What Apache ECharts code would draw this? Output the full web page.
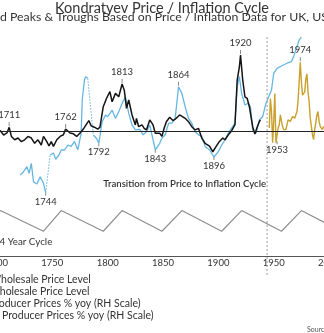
<!DOCTYPE html>
<html>
<head>
<meta charset="utf-8">
<script src="https://cdn.jsdelivr.net/npm/echarts@6/dist/echarts.min.js"></script>
<style>
  html, body { margin: 0; padding: 0; background: #fff; }
  #chart { width: 324px; height: 333px; }
</style>
</head>
<body>
<div id="chart"></div>
<script>
// UK wholesale price level, index (100 = long-run reference level)
const ukWholesale = [
  [1700,100],[1703,100.5],[1706,97],[1709,98.7],[1711,103.2],[1713,95.9],[1716,93.2],[1719,94.6],
  [1722,91.7],[1725,93.2],[1728,95.9],[1731,94.6],[1734,90.4],[1737,93.2],[1740,89],[1742,95.9],
  [1745,91.7],[1747,88.2],[1749,91.7],[1751,87.9],[1754,93.2],[1757,95.9],[1760,97.2],[1762,101.8],
  [1766,98.6],[1769,98],[1772,95.9],[1775,98.6],[1778,101.8],[1781,106],[1783,108.6],[1785,104.4],
  [1788,103.3],[1791,101.8],[1793,103.3],[1796,119.7],[1799,126.5],[1802,131.8],[1804,123.7],[1807,130.4],
  [1810,127.7],[1813,137.9],[1815,133],[1817,118.4],[1819,125.1],[1822,113.1],[1825,105.1],[1826,110.4],
  [1828,103.7],[1831,105.1],[1833,102.4],[1835,101.1],[1838,109.1],[1841,105.1],[1843,98.4],[1847,98.4],
  [1849,95.9],[1851,102.4],[1853,107.7],[1856,111.3],[1859,108.6],[1861,109.7],[1865,113.1],[1870,110.4],
  [1873,107.7],[1876,103.7],[1879,101.1],[1882,102.4],[1885,94.6],[1888,90.4],[1892,88.2],[1895,83.6],
  [1898,87.9],[1901,91.9],[1904,94.6],[1906,93.2],[1909,97.2],[1912,100.5],[1915,105.3],[1917,141.1],
  [1919,151.8],[1920,161.2],[1922,141.1],[1924,127.7],[1926,126.5],[1928,119.7],[1931,103.7],[1933,97.8],
  [1935,103.2],[1937,107.7],[1938,109.1]
];

// US wholesale price level, same index
const usWholesale = [
  [1721,65],[1724,67.6],[1727,71.6],[1729,66.3],[1731,74.3],[1733,59.6],[1736,57.7],[1739,63.6],
  [1742,58.3],[1744,50.8],[1748,81],[1751,82.6],[1753,77.6],[1756,81],[1758,85],[1761,85],
  [1764,89],[1767,87.9],[1770,91.9],[1773,85.2],[1776,98.4],[1777,125.1],[1779,141.1],[1780,143.8],
  [1782,142.5],[1787,97],[1790,94.2],[1792,90.4],[1795,107.7],[1798,113],[1800,111.7],[1804,117],
  [1807,110.4],[1810,115.7],[1813,122.4],[1816,127.7],[1819,114.4],[1822,105.1],[1825,101.1],[1829,101.6],
  [1832,97.2],[1835,99.7],[1838,105.1],[1841,93.2],[1843,85.2],[1847,90.4],[1849,94.6],[1852,97.2],
  [1855,106.5],[1858,106.5],[1861,110.4],[1864,135.7],[1867,130.4],[1870,119.7],[1873,110.4],[1876,106.5],
  [1879,99.7],[1882,97.2],[1885,95.9],[1888,87.9],[1892,85.2],[1896,79.4],[1900,83.7],[1903,89],
  [1906,93.2],[1910,99.9],[1915,106.6],[1917,135.8],[1919,143.8],[1921,130.4],[1924,121.1],[1927,122.4],
  [1929,119.7],[1931,101.1],[1934,98.4],[1937,109.1],[1940,111.7],[1943,122.4],[1948,133.1],[1950,146.5],
  [1953,150.5],[1957,152.4],[1962,154.6],[1966,155.9],[1968,159.9],[1971,167.9],[1973,173.2],[1975,175.6]
];
// spans with no US observations, bridged with a dotted line
const usDataGaps = [[1744,1748],[1782,1787]];

// US producer prices, % year on year (right-hand scale)
const usProducerYoy = [
  [1946,1],[1947,10],[1948,6],[1949,-3.5],[1950,3],[1951,11.5],[1952,-3.5],[1953,-3],
  [1954,1],[1955,2],[1956,5],[1957,3],[1958,1.5],[1959,0.5],[1960,0],[1961,0.5],
  [1962,1],[1963,3.5],[1964,4],[1965,3],[1966,3.5],[1967,4.5],[1968,4],[1969,4],
  [1970,4.5],[1971,6],[1972,9.5],[1973,15],[1974,21],[1975,15],[1976,11],[1977,10.5],
  [1978,12],[1979,16],[1980,17.5],[1981,12],[1982,9],[1983,4],[1984,1.5],[1985,-1],
  [1986,-2.5],[1987,0.5],[1988,2.5],[1989,5],[1990,6],[1991,3],[1992,1.5],[1993,1],
  [1994,0.5],[1995,1.5]
];

// idealised 54-year cycle: 1 = peak, 0 = trough
const cycle54 = [
  [1700,0.82],[1703,1],[1742,0],[1758,1],[1796,0],[1813,1],[1849,0],
  [1867,1],[1903,0],[1921,1],[1957,0],[1975,1],[2000,0.31]
];

// dated turning points: [series key, year]
const peakLabels = [['uk',1711],['uk',1762],['uk',1813],['us',1864],['uk',1920],['ppi',1974]];
const troughLabels = [['us',1744],['us',1792],['us',1843],['us',1896],['ppi',1953]];

const xTickYears = { min: 1700, max: 2020, step: 50 };
const transitionYear = 1944;

const legendNames = [
  'UK Wholesale Price Level',
  'US Wholesale Price Level',
  'US Producer Prices % yoy (RH Scale)',
  'China Producer Prices % yoy (RH Scale)'
];

const FONT = 'Lato, "Noto Sans", sans-serif';
const TEXT = '#333';
const C_UK = '#141414', C_US = '#66b6e3', C_PPI = '#c9a02c', C_CN = '#1f3f77', C_CYCLE = '#8e8e8e';

const mctx = document.createElement('canvas').getContext('2d');
function textW(s, size, weight) {
  mctx.font = (weight || 'normal') + ' ' + size + 'px ' + FONT;
  return mctx.measureText(s).width;
}

const seriesData = { uk: ukWholesale, us: usWholesale, ppi: usProducerYoy };
function valueAt(key, year) {
  const p = seriesData[key].find(d => d[0] === year);
  return p ? p[1] : null;
}
function turningPoints(key) {
  const lab = { show: true, fontSize: 9.5, color: TEXT, fontFamily: FONT };
  const pts = [];
  peakLabels.filter(l => l[0] === key).forEach(l => pts.push({
    coord: [l[1], valueAt(key, l[1])], symbolSize: [1, 4], symbolOffset: [0, -3],
    label: Object.assign({ position: 'top', distance: 2, formatter: String(l[1]) }, lab)
  }));
  troughLabels.filter(l => l[0] === key).forEach(l => pts.push({
    coord: [l[1], valueAt(key, l[1])], symbolSize: [1, 3], symbolOffset: [0, 1.5],
    label: Object.assign({ position: 'bottom', distance: 1, formatter: String(l[1]) }, lab)
  }));
  return { symbol: 'rect', itemStyle: { color: '#8a8a8a' }, data: pts, silent: true, animation: false };
}

// solid US line broken at the gaps, plus the dotted bridges
function withBreaks(pts, gaps) {
  const out = [];
  pts.forEach((p, i) => {
    out.push(p);
    const n = pts[i + 1];
    if (n && gaps.some(g => g[0] === p[0] && g[1] === n[0])) out.push([(p[0] + n[0]) / 2, '-']);
  });
  return out;
}
function bridges(pts, gaps) {
  const out = [];
  gaps.forEach((g, i) => {
    if (i) out.push([(gaps[i - 1][1] + g[0]) / 2, '-']);
    out.push(pts.find(p => p[0] === g[0]), pts.find(p => p[0] === g[1]));
  });
  return out;
}

const legendFont = 10.5;
const legendTextLeft = 7 - textW('China ', legendFont) - 6;
const legendItemW = 25;

const option = {
  animation: false,
  backgroundColor: '#fff',
  textStyle: { fontFamily: FONT },
  title: {
    text: 'Kondratyev Price / Inflation Cycle',
    left: 'center', top: 1, padding: 0,
    textStyle: { fontSize: 14.5, fontWeight: 'normal', color: TEXT, fontFamily: FONT }
  },
  legend: {
    orient: 'vertical',
    left: legendTextLeft - legendItemW - 5,
    top: 274.5,
    padding: 0,
    itemWidth: legendItemW, itemHeight: 10, itemGap: 1,
    textStyle: { fontSize: legendFont, color: TEXT, fontFamily: FONT },
    data: legendNames
  },
  grid: { left: -3, top: 0, width: 354.2, height: 256, outerBoundsMode: 'none', containLabel: false },
  xAxis: {
    type: 'value', min: xTickYears.min, max: xTickYears.max, interval: xTickYears.step,
    axisLine: { show: true, lineStyle: { color: '#555', width: 1 } },
    axisTick: { show: false },
    splitLine: { show: false },
    axisLabel: {
      margin: 2, fontSize: 9.5, color: TEXT, fontFamily: FONT,
      showMinLabel: true, showMaxLabel: false, hideOverlap: false, formatter: v => String(v)
    }
  },
  yAxis: [
    { type: 'value', min: 0, max: 205.3, show: false, splitLine: { show: false } },
    { type: 'value', min: -38, max: 40, show: false, splitLine: { show: false } },
    { type: 'value', min: -1.2, max: 11.2, show: false, splitLine: { show: false } }
  ],
  series: [
    {
      name: '54 Year Cycle', type: 'line', yAxisIndex: 2, data: cycle54,
      showSymbol: false, lineStyle: { color: C_CYCLE, width: 1.2 }, silent: true
    },
    {
      name: legendNames[1], type: 'line', yAxisIndex: 0, data: withBreaks(usWholesale, usDataGaps),
      showSymbol: false, connectNulls: false, color: C_US, lineStyle: { color: C_US, width: 1.3 },
      markPoint: turningPoints('us')
    },
    {
      name: 'US gaps', type: 'line', yAxisIndex: 0, data: bridges(usWholesale, usDataGaps),
      showSymbol: false, connectNulls: false,
      lineStyle: { color: C_US, width: 1, type: [1.5, 1.5] }, silent: true
    },
    {
      name: legendNames[0], type: 'line', yAxisIndex: 0, data: ukWholesale,
      showSymbol: false, color: C_UK, lineStyle: { color: C_UK, width: 1.5 },
      markPoint: turningPoints('uk'),
      markLine: {
        silent: true, symbol: 'none', animation: false,
        label: { show: false },
        lineStyle: { color: '#222', width: 1, type: 'solid' },
        data: [{ yAxis: 100 }]
      }
    },
    {
      name: legendNames[2], type: 'line', yAxisIndex: 1, data: usProducerYoy,
      showSymbol: false, color: C_PPI, lineStyle: { color: C_PPI, width: 1.4 },
      markPoint: turningPoints('ppi')
    },
    {
      name: legendNames[3], type: 'line', yAxisIndex: 1, data: [],
      showSymbol: false, color: C_CN, lineStyle: { color: C_CN, width: 1.4 }
    }
  ]
};

const chart = echarts.init(document.getElementById('chart'), null, { renderer: 'canvas' });
chart.setOption(option);

const tx = chart.convertToPixel({ xAxisIndex: 0, yAxisIndex: 0 }, [transitionYear, 100])[0];
const subtitle = 'Dated Peaks & Troughs Based on Price / Inflation Data for UK, US';
const subSize = 12.3;
chart.setOption({
  graphic: [
    {
      id: 'subtitle', type: 'text', x: -textW('Date', subSize), y: 17.5,
      style: { text: subtitle, fill: TEXT, fontSize: subSize, fontFamily: FONT, textVerticalAlign: 'middle' }
    },
    {
      id: 'transitionLine', type: 'line', z: 50,
      shape: { x1: tx, y1: 37, x2: tx, y2: 277 },
      style: { stroke: '#9a9a9a', lineWidth: 1, lineDash: [2, 2] }
    },
    {
      id: 'transitionText', type: 'text', x: tx - 1, y: 183.5,
      style: {
        text: 'Transition from Price to Inflation Cycle', fill: TEXT, fontSize: 9.6,
        fontWeight: 600, fontFamily: FONT, textAlign: 'right', textVerticalAlign: 'middle'
      }
    },
    {
      id: 'cycleName', type: 'text', x: -textW('5', 9.8) - 0.5, y: 241.5,
      style: { text: '54 Year Cycle', fill: TEXT, fontSize: 9.8, fontFamily: FONT, textVerticalAlign: 'middle' }
    },
    {
      id: 'source', type: 'text', x: 307, y: 330,
      style: { text: 'Source:', fill: '#555', fontSize: 7, fontFamily: FONT, textVerticalAlign: 'middle' }
    }
  ]
});
</script>
</body>
</html>
